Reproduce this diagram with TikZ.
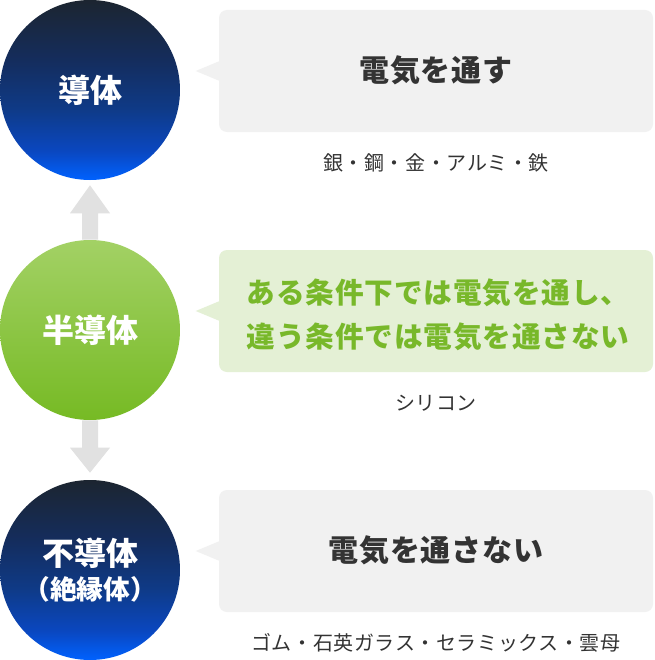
\documentclass[tikz,border=0pt]{standalone}
\usepackage{fontspec}
\setmainfont{Noto Sans CJK JP}
\newfontfamily\cjk{Noto Sans CJK JP}
\newfontfamily\cjkls[LetterSpace=3]{Noto Sans CJK JP}
\newfontfamily\cjksub[LetterSpace=3]{Noto Sans CJK JP}
\usetikzlibrary{calc}
\definecolor{bA}{HTML}{0062FF}
\definecolor{bB}{HTML}{0A47C0}
\definecolor{bC}{HTML}{0F3A86}
\definecolor{bD}{HTML}{142D5E}
\definecolor{bE}{HTML}{1C2530}
\definecolor{gTop}{HTML}{A3D165}
\definecolor{gBot}{HTML}{76BA24}
\definecolor{boxgray}{HTML}{F1F1F1}
\definecolor{boxgreen}{HTML}{E4F0D5}
\definecolor{arrowgray}{HTML}{E1E1E1}
\definecolor{txtdark}{HTML}{333333}
\definecolor{txtgreen}{HTML}{78B82A}
\pgfdeclareverticalshading{blueball}{100bp}{color(0bp)=(bA); color(25bp)=(bA); color(33bp)=(bB); color(45bp)=(bC); color(58bp)=(bD); color(75bp)=(bE); color(100bp)=(bE)}
\pgfdeclareverticalshading{greenball}{100bp}{color(0bp)=(gBot); color(25bp)=(gBot); color(75bp)=(gTop); color(100bp)=(gTop)}
\begin{document}
\begin{tikzpicture}[x=0.75pt,y=-0.75pt,
  ball/.style={circle, minimum size=135pt, inner sep=0pt, text=white, align=center, font=\cjk\bfseries\fontsize{24}{28}\selectfont},
  bubble/.style={fill=#1, rounded corners=6pt, minimum width=325.5pt, minimum height=91.5pt, inner sep=0pt},
  titletext/.style={text=#1, font=\cjkls\bfseries\fontsize{22.5}{26}\selectfont, inner sep=0pt, align=center},
  subtext/.style={text=txtdark, font=\cjksub\fontsize{15}{18}\selectfont, inner sep=0pt}
]
\useasboundingbox (0,0) rectangle (654,660);
\fill[white] (0,0) rectangle (654,660);

% circles
\node[ball, shade, shading=blueball] (top) at (90,90) {導体};
\node[ball, shade, shading=greenball] (mid) at (90,330) {半導体};
\node[ball, shade, shading=blueball] (bot) at (90,570) {不導体\\[-2pt]{\fontsize{20}{22}\selectfont （絶縁体）}};

% arrows
\fill[arrowgray] ($(mid.north)+(-8,0)$) -- ($(top.south)+(-8,33)$) -- ($(top.south)+(-20,33)$) -- ($(top.south)+(0,5)$) -- ($(top.south)+(20,33)$) -- ($(top.south)+(8,33)$) -- ($(mid.north)+(8,0)$) -- cycle;
\fill[arrowgray] ($(mid.south)+(-8,0)$) -- ($(bot.north)+(-8,-32)$) -- ($(bot.north)+(-20,-32)$) -- ($(bot.north)+(0,-7)$) -- ($(bot.north)+(20,-32)$) -- ($(bot.north)+(8,-32)$) -- ($(mid.south)+(8,0)$) -- cycle;

% bubbles
\node[bubble=boxgray] (b1) at (436,71) {};
\node[bubble=boxgreen] (b2) at (436,311) {};
\node[bubble=boxgray] (b3) at (436,551) {};
\fill[boxgray] ($(b1.west)+(1,-10)$) -- ($(b1.west)+(-23,0)$) -- ($(b1.west)+(1,10)$) -- cycle;
\fill[boxgreen] ($(b2.west)+(1,-10)$) -- ($(b2.west)+(-23,0)$) -- ($(b2.west)+(1,10)$) -- cycle;
\fill[boxgray] ($(b3.west)+(1,-10)$) -- ($(b3.west)+(-23,0)$) -- ($(b3.west)+(1,10)$) -- cycle;

% texts
\node[titletext=txtdark] (t1) at ($(b1.center)+(0,-1)$) {電気を通す};
\node[titletext=txtgreen, font=\cjkls\bfseries\fontsize{21.5}{33}\selectfont] (t2) at ($(b2.center)+(2,4)$) {ある条件下では電気を通し、\\違う条件では電気を通さない};
\node[titletext=txtdark] (t3) at ($(b3.center)+(0,-1)$) {電気を通さない};

\node[subtext] (s1) at ($(b1.south)+(0,31)$) {銀・鋼・金・アルミ・鉄};
\node[subtext] (s2) at ($(b2.south)+(0,31)$) {シリコン};
\node[subtext] (s3) at ($(b3.south)+(0,31)$) {ゴム・石英ガラス・セラミックス・雲母};
\end{tikzpicture}
\end{document}
